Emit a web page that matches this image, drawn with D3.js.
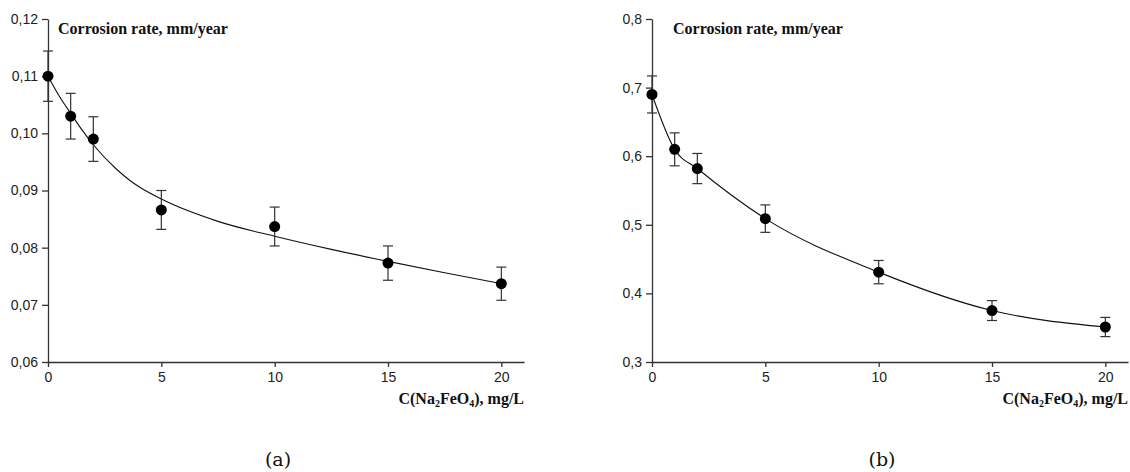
<!DOCTYPE html>
<html>
<head>
<meta charset="utf-8">
<script src="https://cdn.jsdelivr.net/npm/d3@7"></script>
<style>
  body { margin: 0; background: #fff; }
  .axis path, .axis line { stroke: #333; stroke-width: 1.3; }
  .axis text { font-family: "Liberation Sans", Arial, sans-serif; font-size: 14px; fill: #222; }
  .ttl { font-family: "Liberation Serif", "Times New Roman", serif; font-weight: bold; font-size: 16px; fill: #111; }
  .cap { font-family: "DejaVu Serif", serif; font-size: 19px; fill: #111; }
</style>
</head>
<body>
<script>
// concentration C(Na2FeO4), mg/L
var conc = [0, 1, 2, 5, 10, 15, 20];

// panel (a)
var rateA = [0.1100, 0.1030, 0.0990, 0.0866, 0.0837, 0.0773, 0.0737];
var errA = [0.0044, 0.0040, 0.0039, 0.0034, 0.0034, 0.0030, 0.0029];
var fitXA = [0, 0.5, 1, 1.5, 2, 3, 3.6, 4, 5, 7.5, 10, 12.5, 15, 17.5, 20];
var fitYA = [0.1100, 0.1065, 0.1035, 0.1006, 0.0980, 0.0938, 0.0918, 0.0907, 0.0885, 0.0846, 0.0820, 0.0797, 0.0776, 0.0756, 0.0737];
var yTicksA = [0.06, 0.07, 0.08, 0.09, 0.10, 0.11, 0.12];

// panel (b)
var rateB = [0.690, 0.610, 0.582, 0.509, 0.431, 0.375, 0.351];
var errB = [0.027, 0.024, 0.022, 0.020, 0.017, 0.0145, 0.014];
var yTicksB = [0.3, 0.4, 0.5, 0.6, 0.7, 0.8];

var xTicks = [0, 5, 10, 15, 20];

var W = 1130, H = 472;
var svg = d3.select('body').append('svg').attr('width', W).attr('height', H);

function panel(opt) {
    var x = d3.scaleLinear().domain([0, 21]).range([opt.left, opt.right]);
    var y = d3.scaleLinear().domain(opt.yDomain).range([362, 19]);
    var g = svg.append('g');

    g.append('g').attr('class', 'axis').attr('transform', 'translate(0,362)')
        .call(d3.axisBottom(x).tickValues(xTicks).tickSize(5).tickSizeOuter(0).tickPadding(5));
    g.append('g').attr('class', 'axis').attr('transform', `translate(${opt.left},0)`)
        .call(d3.axisLeft(y).tickValues(opt.yTicks).tickSize(6).tickSizeOuter(0).tickPadding(4)
            .tickFormat(function(d) { return d3.format(opt.fmt)(d).replace('.', ','); }));

    // fit line
    var line = d3.line().x(function(d) { return x(d[0]); }).y(function(d) { return y(d[1]); })
        .curve(d3.curveMonotoneX);
    g.append('path').datum(d3.zip(opt.fitX, opt.fitY)).attr('d', line)
        .attr('fill', 'none').attr('stroke', '#111').attr('stroke-width', 1.1);

    // error bars
    var eb = g.append('g').selectAll('g').data(conc).enter().append('g')
        .attr('stroke', '#333').attr('stroke-width', 1.2);
    eb.append('line').attr('x1', function(d) { return x(d); }).attr('x2', function(d) { return x(d); })
        .attr('y1', function(d, i) { return y(opt.rate[i] + opt.err[i]); })
        .attr('y2', function(d, i) { return y(opt.rate[i] - opt.err[i]); });
    [1, -1].forEach(function(s) {
        eb.append('line').attr('x1', function(d) { return x(d) - 5; }).attr('x2', function(d) { return x(d) + 5; })
            .attr('y1', function(d, i) { return y(opt.rate[i] + s * opt.err[i]); })
            .attr('y2', function(d, i) { return y(opt.rate[i] + s * opt.err[i]); });
    });

    // points
    g.append('g').selectAll('circle').data(conc).enter().append('circle')
        .attr('cx', function(d) { return x(d); })
        .attr('cy', function(d, i) { return y(opt.rate[i]); })
        .attr('r', 5.5).attr('fill', '#000');

    g.append('text').attr('class', 'ttl').attr('x', opt.left + opt.titleDx).attr('y', 34)
        .text('Corrosion rate, mm/year');

    var xt = g.append('text').attr('class', 'ttl').attr('x', opt.right).attr('y', 404).attr('text-anchor', 'end');
    xt.append('tspan').text('C(Na');
    xt.append('tspan').attr('font-size', '10px').attr('dy', 3).text('2');
    xt.append('tspan').attr('dy', -3).text('FeO');
    xt.append('tspan').attr('font-size', '10px').attr('dy', 3).text('4');
    xt.append('tspan').attr('dy', -3).text('), mg/L');

    g.append('text').attr('class', 'cap').attr('x', opt.capX).attr('y', 466).attr('text-anchor', 'middle')
        .text(opt.cap);
}

panel({ left: 48, right: 524, yDomain: [0.06, 0.12], yTicks: yTicksA, fmt: '.2f',
    rate: rateA, err: errA, fitX: fitXA, fitY: fitYA, titleDx: 10, capX: 278, cap: '(a)' });
panel({ left: 652, right: 1128, yDomain: [0.3, 0.8], yTicks: yTicksB, fmt: '.1f',
    rate: rateB, err: errB, fitX: conc, fitY: rateB, titleDx: 21, capX: 882, cap: '(b)' });
</script>
</body>
</html>
